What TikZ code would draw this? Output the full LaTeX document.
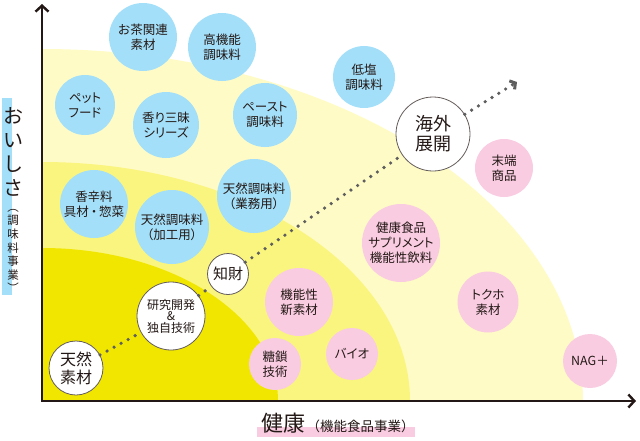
\documentclass[tikz,border=0pt]{standalone}
\usepackage{fontspec}
\setmainfont{Noto Sans CJK JP}
\newfontfamily\bubfont[RawFeature=+palt]{Noto Sans CJK JP}
\usetikzlibrary{arrows.meta,positioning}
\definecolor{ink}{HTML}{231815}
\definecolor{bubblue}{HTML}{A3DFF9}
\definecolor{bubpink}{HTML}{F9CCE1}
\definecolor{yelA}{HTML}{FFFBC6}
\definecolor{yelB}{HTML}{FAF57F}
\definecolor{yelC}{HTML}{F0E600}
\definecolor{dotgray}{HTML}{5E5E5E}

\begin{document}
\begin{tikzpicture}[x=1pt,y=-1pt,
  bub/.style={circle,inner sep=0pt,align=center,text=ink,
    font=\bubfont\fontsize{12.5}{15}\selectfont},
  bl/.style={bub,fill=bubblue,minimum size=#1},
  pk/.style={bub,fill=bubpink,minimum size=#1},
  wh/.style={bub,fill=white,draw=ink!70,line width=0.8pt,minimum size=#1},
  axis/.style={ink,line width=2.6pt,line join=miter},
  dots/.style={dotgray,line width=3.6pt,line cap=round,dash pattern=on 0pt off 8pt}]
\useasboundingbox (0,0) rectangle (640,440);
\coordinate (O) at (42,401);
\coordinate (ytip) at (42,4);
\coordinate (xtip) at (636,401);
\coordinate (dottip) at (517,82);

% zones
\begin{scope}
  \clip (42,0) rectangle (640,401);
  \fill[yelA] (O) ellipse[x radius=541pt,y radius=352pt];
  \fill[yelB] (O) ellipse[x radius=368pt,y radius=239pt];
  \fill[yelC] (O) ellipse[x radius=236pt,y radius=153pt];
\end{scope}

% oishisa side
\node[bl=68pt] (tea) at (143,37) {お茶関連\\素材};
\node[bl=68pt] (koukinou) at (222,47) {高機能\\調味料};
\node[bl=60pt] (pet) at (85,105) {ペット\\フード};
\node[bl=66pt] (kaori) at (166,125) {香り三昧\\シリーズ};
\node[bl=64pt] (paste) at (265,115) {ペースト\\調味料};
\node[bl=62pt] (teien) at (364,77) {低塩\\調味料};
\node[bl=68pt] (spice) at (94,204) {香辛料\\具材\hspace{2pt}・\hspace{2pt}惣菜};
\node[bl=74pt] (kakou) at (172,227) {天然調味料\\（加工用）};
\node[bl=74pt] (gyomu) at (254,196) {天然調味料\\（業務用）};

% kenko side
\node[pk=78pt] (kenko) at (401,243) {健康食品\\サプリメント\\機能性飲料};
\node[pk=68pt] (kinou) at (299,302) {機能性\\新素材};
\node[pk=52pt] (tosa) at (275,364) {糖鎖\\技術};
\node[pk=52pt] (bio) at (352,354) {バイオ};
\node[pk=58pt] (matan) at (504,168) {末端\\商品};
\node[pk=61pt] (tokuho) at (488,302) {トクホ\\素材};
\node[pk=54pt] (nag) at (590,361) {NAG＋};

% core path
\node[wh=54pt,font=\bubfont\fontsize{16}{18}\selectfont] (tennen) at (76,368) {天然\\素材};
\node[wh=68pt,font=\bubfont\fontsize{12}{11.5}\selectfont] (kenkyu) at (171,316) {研究開発\\\&\\独自技術};
\node[wh=41pt,font=\bubfont\fontsize{15}{17}\selectfont] (chizai) at (228,274) {知財};
\node[wh=74pt,font=\bubfont\fontsize{18}{20}\selectfont] (kaigai) at (433,134) {海外\\展開};
\draw[dots] (tennen) -- (kenkyu);
\draw[dots] (kenkyu) -- (chizai);
\draw[dots] (chizai) -- (kaigai);
\draw[dots,-{Straight Barb[length=4pt,width=10pt,line width=3pt]}] (kaigai) -- (dottip);

% axes
\draw[axis,{Straight Barb[length=6pt,width=13pt,line width=2.4pt]}-{Straight Barb[length=6pt,width=13pt,line width=2.4pt]}]
  (ytip) -- (O) -- (xtip);

% axis labels
\fill[bubblue] (2,98) rectangle (12,295);
\node[text=ink,align=center,font=\fontsize{20}{24}\selectfont] (ylab) at (13,152) {お\\い\\し\\さ};
\node[text=ink,align=center,font=\fontsize{11.5}{13.6}\selectfont] (ysub) at (13,251) {︵\\調\\味\\料\\事\\業\\︶};
\fill[bubpink] (257,427) rectangle (415,437);
\node[text=ink,font=\fontsize{22}{22}\selectfont,anchor=base west,inner sep=0pt] (xlab) at (261,431) {健康};
\node[text=ink,font=\fontsize{13.5}{14}\selectfont,anchor=base west,inner sep=0pt] (xsub) at ([xshift=1pt]xlab.base east) {（機能食品事業）};
\end{tikzpicture}
\end{document}
